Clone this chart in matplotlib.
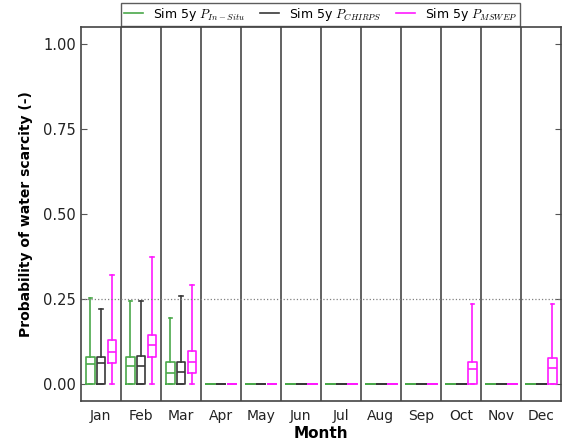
import numpy as np
import matplotlib
matplotlib.use("Agg")
import matplotlib.pyplot as plt
from matplotlib.lines import Line2D

plt.rcParams['mathtext.fontset'] = 'cm'

months = ['Jan', 'Feb', 'Mar', 'Apr', 'May', 'Jun', 'Jul', 'Aug', 'Sep', 'Oct', 'Nov', 'Dec']

# box statistics per month (q1, median, q3, lower / upper whisker)
insitu_q1 = [0, 0, 0, 0, 0, 0, 0, 0, 0, 0, 0, 0]
insitu_med = [0.059, 0.053, 0.033, 0, 0, 0, 0, 0, 0, 0, 0, 0]
insitu_q3 = [0.078, 0.080, 0.065, 0, 0, 0, 0, 0, 0, 0, 0, 0]
insitu_lo = [0, 0, 0, 0, 0, 0, 0, 0, 0, 0, 0, 0]
insitu_hi = [0.252, 0.245, 0.195, 0, 0, 0, 0, 0, 0, 0, 0, 0]

chirps_q1 = [0, 0, 0, 0, 0, 0, 0, 0, 0, 0, 0, 0]
chirps_med = [0.061, 0.053, 0.035, 0, 0, 0, 0, 0, 0, 0, 0, 0]
chirps_q3 = [0.078, 0.081, 0.065, 0, 0, 0, 0, 0, 0, 0, 0, 0]
chirps_lo = [0, 0, 0, 0, 0, 0, 0, 0, 0, 0, 0, 0]
chirps_hi = [0.220, 0.245, 0.260, 0, 0, 0, 0, 0, 0, 0, 0, 0]

mswep_q1 = [0.063, 0.080, 0.033, 0, 0, 0, 0, 0, 0, 0, 0, 0]
mswep_med = [0.094, 0.114, 0.066, 0, 0, 0, 0, 0, 0, 0.044, 0, 0.048]
mswep_q3 = [0.128, 0.145, 0.098, 0, 0, 0, 0, 0, 0, 0.066, 0, 0.076]
mswep_lo = [0, 0, 0, 0, 0, 0, 0, 0, 0, 0, 0, 0]
mswep_hi = [0.320, 0.373, 0.292, 0, 0, 0, 0, 0, 0, 0.236, 0, 0.236]

series = [
    (r'Sim 5y $P_{In-Situ}$', '#4aa84a', -0.26, insitu_q1, insitu_med, insitu_q3, insitu_lo, insitu_hi),
    (r'Sim 5y $P_{CHIRPS}$', '#383838', 0.01, chirps_q1, chirps_med, chirps_q3, chirps_lo, chirps_hi),
    (r'Sim 5y $P_{MSWEP}$', '#ff1aff', 0.285, mswep_q1, mswep_med, mswep_q3, mswep_lo, mswep_hi),
]

fig = plt.figure(figsize=(5.65, 4.42), dpi=100)
ax = fig.add_axes([0.143, 0.093, 0.85, 0.845])

x = np.arange(1, 13)
handles = []
for label, col, off, q1, med, q3, lo, hi in series:
    stats = []
    for i in range(12):
        stats.append({'q1': q1[i], 'med': med[i], 'q3': q3[i],
                      'whislo': lo[i], 'whishi': hi[i], 'fliers': []})
    style = dict(color=col, linewidth=1.2)
    ax.bxp(stats, positions=x + off, widths=0.21, capwidths=0.09,
           boxprops=style, whiskerprops=style, capprops=style,
           medianprops=style, showfliers=False, manage_ticks=False)
    handles.append(Line2D([], [], color=col, lw=1.2, label=label))

# month separators
for s in np.arange(1.5, 12.5, 1):
    ax.axvline(s, color='#555555', lw=1.3)
ax.axhline(0.25, color='gray', ls=':', lw=0.9)

ax.set_xlim(0.5, 12.5)
ax.set_ylim(-0.05, 1.05)
ax.set_xticks(x)
ax.set_xticklabels(months, fontsize=10, color='#222222')
ax.set_yticks([0, 0.25, 0.5, 0.75, 1.0])
ax.set_yticklabels(['0.00', '0.25', '0.50', '0.75', '1.00'], fontsize=10.5, color='#222222')
ax.tick_params(axis='x', length=0, pad=6)
ax.tick_params(axis='y', direction='in', right=True, length=4, color='#555555')
for sp in ax.spines.values():
    sp.set_color('#444444')
    sp.set_linewidth(1.2)

ax.set_xlabel('Month', fontsize=11, fontweight='bold', labelpad=2)
ax.set_ylabel('Probability of water scarcity (-)', fontsize=10, fontweight='bold', labelpad=7)

leg = fig.legend(handles=handles, loc='upper center', bbox_to_anchor=(0.567, 1.008),
                 ncol=3, fontsize=9, frameon=True, fancybox=False,
                 borderpad=0.25, columnspacing=1.2, handlelength=1.5)
leg.get_frame().set_edgecolor('#333333')
leg.get_frame().set_linewidth(1.0)

fig.savefig('out.png', dpi=100)
